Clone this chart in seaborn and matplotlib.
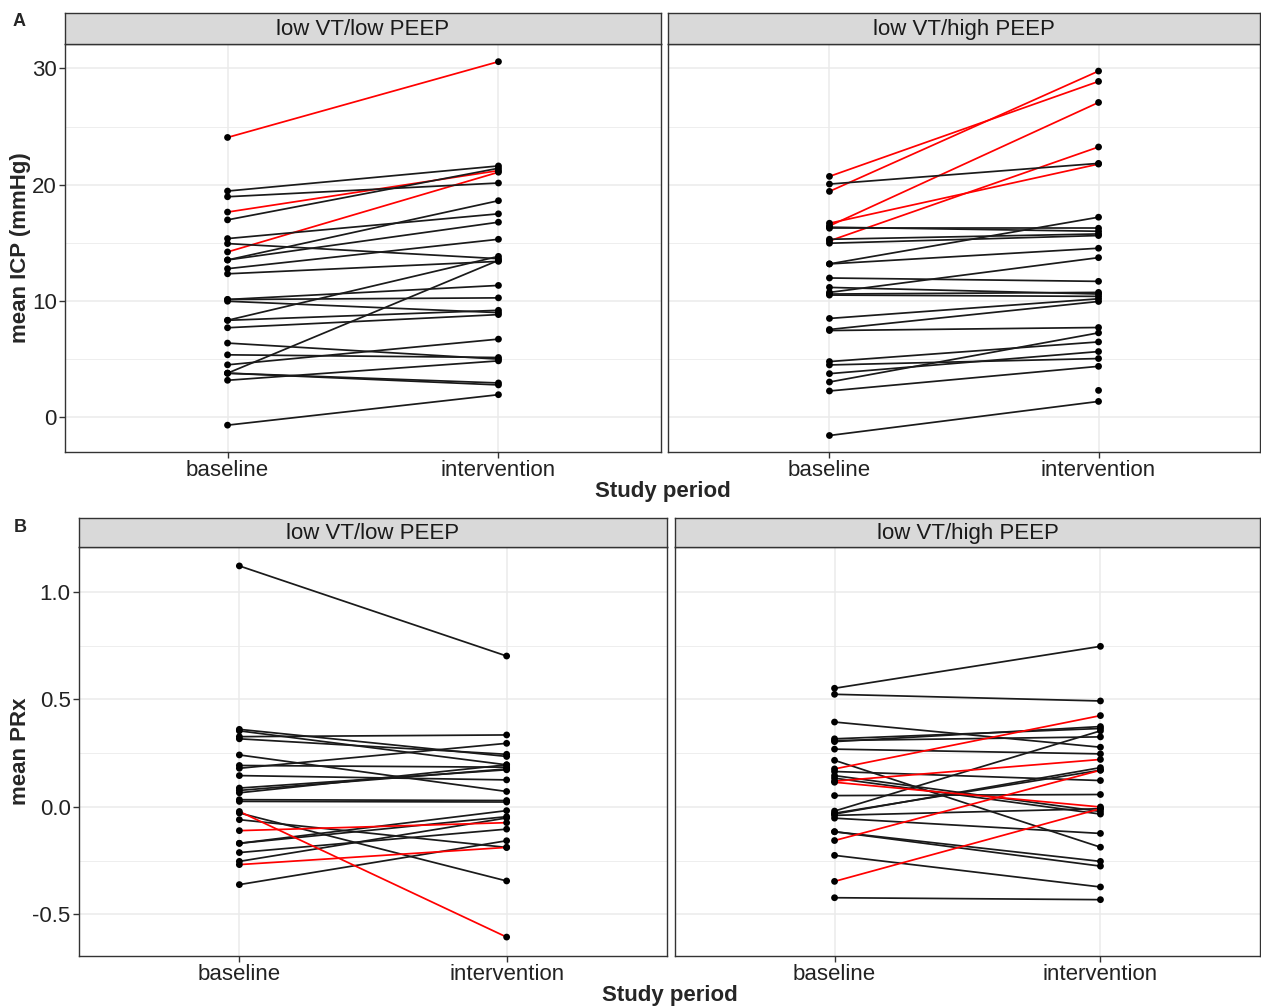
import numpy as np
import pandas as pd
import matplotlib
matplotlib.use("Agg")
import matplotlib.pyplot as plt
import seaborn as sns
from matplotlib.ticker import MultipleLocator

# ---------------- data ----------------
periods = ["baseline", "intervention"]
groups = ["low VT/low PEEP", "low VT/high PEEP"]

# Panel A: mean ICP (mmHg), low VT / low PEEP
icp_low_base = [24.06, 19.45, 16.97, 17.64, 14.21, 18.96, 13.52, 15.36, 13.52, 12.77,
                8.33, 14.93, 3.78, 12.33, 10.12, 10.12, 8.33, 9.97, 7.69, 4.50,
                5.36, 6.37, 3.17, 3.78, 3.78, -0.69]
icp_low_int = [30.58, 21.61, 21.41, 21.21, 21.07, 20.14, 18.62, 17.49, 16.77, 15.30,
               13.83, 13.63, 13.49, 13.40, 11.33, 10.26, 9.19, 8.99, 8.82, 6.71,
               5.13, 4.99, 4.84, 2.94, 2.77, 1.93]
icp_low_red = [1, 0, 0, 1, 1, 0, 0, 0, 0, 0,
               0, 0, 0, 0, 0, 0, 0, 0, 0, 0,
               0, 0, 0, 0, 0, 0]

# Panel A: mean ICP (mmHg), low VT / high PEEP
icp_high_base = [20.71, 19.42, 20.05, 16.68, 16.45, 15.16, 16.25, 16.34, 15.30, 14.96,
                 13.18, 13.18, 11.97, 11.16, 10.73, 10.50, 10.59, 8.49, 7.54, 7.45,
                 4.78, 4.49, 3.74, 3.02, 2.25, -1.58, np.nan]
icp_high_int = [28.88, 29.77, 21.83, 21.77, 27.07, 23.24, 16.25, 15.99, 15.76, 15.62,
                17.20, 14.53, 11.68, 10.59, 13.72, 10.39, 10.73, 10.18, 9.95, 7.71,
                6.47, 5.04, 5.64, 7.25, 4.37, 1.35, 2.30]
icp_high_red = [1, 1, 0, 1, 1, 1, 0, 0, 0, 0,
                0, 0, 0, 0, 0, 0, 0, 0, 0, 0,
                0, 0, 0, 0, 0, 0, 0]

# Panel B: mean PRx, low VT / low PEEP
prx_low_base = [1.121, 0.361, 0.354, 0.327, 0.317, 0.242, 0.193, 0.180, 0.146, 0.088,
                0.077, 0.066, 0.034, 0.026, -0.028, -0.021, -0.059, -0.110, -0.169, -0.169,
                -0.212, -0.253, -0.268, -0.361]
prx_low_int = [0.702, 0.235, 0.196, 0.335, 0.245, 0.072, 0.185, 0.296, 0.126, 0.173,
               0.177, 0.196, 0.030, 0.023, -0.344, -0.605, -0.188, -0.073, -0.017, -0.045,
               -0.103, -0.051, -0.188, -0.157]
prx_low_red = [0, 0, 0, 0, 0, 0, 0, 0, 0, 0,
               0, 0, 0, 0, 0, 1, 0, 1, 0, 0,
               0, 0, 1, 0]

# Panel B: mean PRx, low VT / high PEEP
prx_high_base = [0.552, 0.524, 0.395, 0.317, 0.309, 0.304, 0.269, 0.217, 0.177, 0.165,
                 0.146, 0.134, 0.120, 0.115, 0.053, -0.019, -0.029, -0.033, -0.039, -0.052,
                 -0.115, -0.115, -0.156, -0.225, -0.346, -0.422]
prx_high_int = [0.747, 0.493, 0.278, 0.365, 0.326, 0.374, 0.247, -0.187, 0.425, 0.123,
                -0.021, -0.033, 0.221, 0.000, 0.058, 0.354, 0.171, 0.183, -0.008, -0.123,
                -0.253, -0.275, 0.171, -0.372, -0.008, -0.431]
prx_high_red = [0, 0, 0, 0, 0, 0, 0, 0, 1, 0,
                0, 0, 1, 1, 0, 0, 0, 0, 0, 0,
                0, 0, 1, 0, 1, 0]


def long_frame(base, inter, red):
    rows = []
    for i, (b, v, r) in enumerate(zip(base, inter, red)):
        col = "red" if r else "black"
        rows.append(dict(id=i, x=1, value=b, trend=col))
        rows.append(dict(id=i, x=2, value=v, trend=col))
    return pd.DataFrame(rows)


sns.set_theme(style="white")
plt.rcParams["font.family"] = ["Liberation Sans", "DejaVu Sans"]
plt.rcParams["axes.unicode_minus"] = False

W, H = 1261, 1008
fig = plt.figure(figsize=(W / 100, H / 100), dpi=100)
fig.patch.set_facecolor("white")

GREY20 = "#333333"
GRID = "#EBEBEB"


def px_axes(x0, y0, x1, y1):
    return fig.add_axes([x0 / W, 1 - y1 / H, (x1 - x0) / W, (y1 - y0) / H])


def draw_panel(box, strip, title, base, inter, red, ylim, major, show_y, yfmt):
    ax = px_axes(*box)
    df = long_frame(base, inter, red)
    sns.lineplot(data=df, x="x", y="value", units="id", estimator=None,
                 hue="trend", palette={"black": "#1a1a1a", "red": "#FF0000"},
                 sort=False, legend=False, linewidth=1.25, ax=ax, zorder=2)
    sns.scatterplot(data=df, x="x", y="value", color="black", s=24,
                    edgecolor="none", legend=False, ax=ax, zorder=3)
    ax.set_xlim(0.4, 2.6)
    ax.set_ylim(*ylim)
    ax.set_xticks([1, 2])
    ax.set_xticklabels(periods)
    ax.yaxis.set_major_locator(MultipleLocator(major))
    ax.yaxis.set_minor_locator(MultipleLocator(major / 2))
    ax.yaxis.set_major_formatter(matplotlib.ticker.FuncFormatter(lambda v, p: yfmt.format(v)))
    ax.set_axisbelow(True)
    ax.grid(which="major", color=GRID, linewidth=1.1)
    ax.grid(which="minor", axis="y", color=GRID, linewidth=0.6)
    ax.tick_params(axis="both", which="major", labelsize=16, length=4, width=1,
                   color=GREY20, labelcolor="#222222", pad=2, bottom=True, left=show_y)
    ax.tick_params(which="minor", length=0)
    if not show_y:
        ax.set_yticklabels([])
    ax.set_xlabel("")
    ax.set_ylabel("")
    for s in ax.spines.values():
        s.set_color(GREY20)
        s.set_linewidth(1.0)
        s.set_visible(True)

    sax = px_axes(*strip)
    sax.set_facecolor("#D9D9D9")
    sax.set_xticks([])
    sax.set_yticks([])
    for s in sax.spines.values():
        s.set_color(GREY20)
        s.set_linewidth(1.0)
        s.set_visible(True)
    sax.text(0.5, 0.46, title, ha="center", va="center", fontsize=16,
             color="#1A1A1A", transform=sax.transAxes)
    return ax


# Panel A
draw_panel((65, 44, 661, 452), (65, 13, 661, 44), groups[0],
           icp_low_base, icp_low_int, icp_low_red, (-3.0, 32.1), 10, True, "{:.0f}")
draw_panel((668, 44, 1260, 452), (668, 13, 1260, 44), groups[1],
           icp_high_base, icp_high_int, icp_high_red, (-3.0, 32.1), 10, False, "{:.0f}")

# Panel B
draw_panel((79, 547, 667, 956), (79, 518, 667, 547), groups[0],
           prx_low_base, prx_low_int, prx_low_red, (-0.693, 1.209), 0.5, True, "{:.1f}")
draw_panel((675, 547, 1260, 956), (675, 518, 1260, 547), groups[1],
           prx_high_base, prx_high_int, prx_high_red, (-0.693, 1.209), 0.5, False, "{:.1f}")

# labels
fig.text(663 / W, 1 - 492 / H, "Study period", ha="center", va="center",
         fontsize=16, fontweight="bold")
fig.text(670 / W, 1 - 996 / H, "Study period", ha="center", va="center",
         fontsize=16, fontweight="bold")
fig.text(21 / W, 1 - 248 / H, "mean ICP (mmHg)", ha="center", va="center",
         rotation=90, fontsize=16, fontweight="bold")
fig.text(21 / W, 1 - 751 / H, "mean PRx", ha="center", va="center",
         rotation=90, fontsize=16, fontweight="bold")
fig.text(19 / W, 1 - 22 / H, "A", ha="center", va="center", fontsize=13, fontweight="bold")
fig.text(20 / W, 1 - 527 / H, "B", ha="center", va="center", fontsize=13, fontweight="bold")

fig.savefig("out.png", dpi=100, facecolor="white")
